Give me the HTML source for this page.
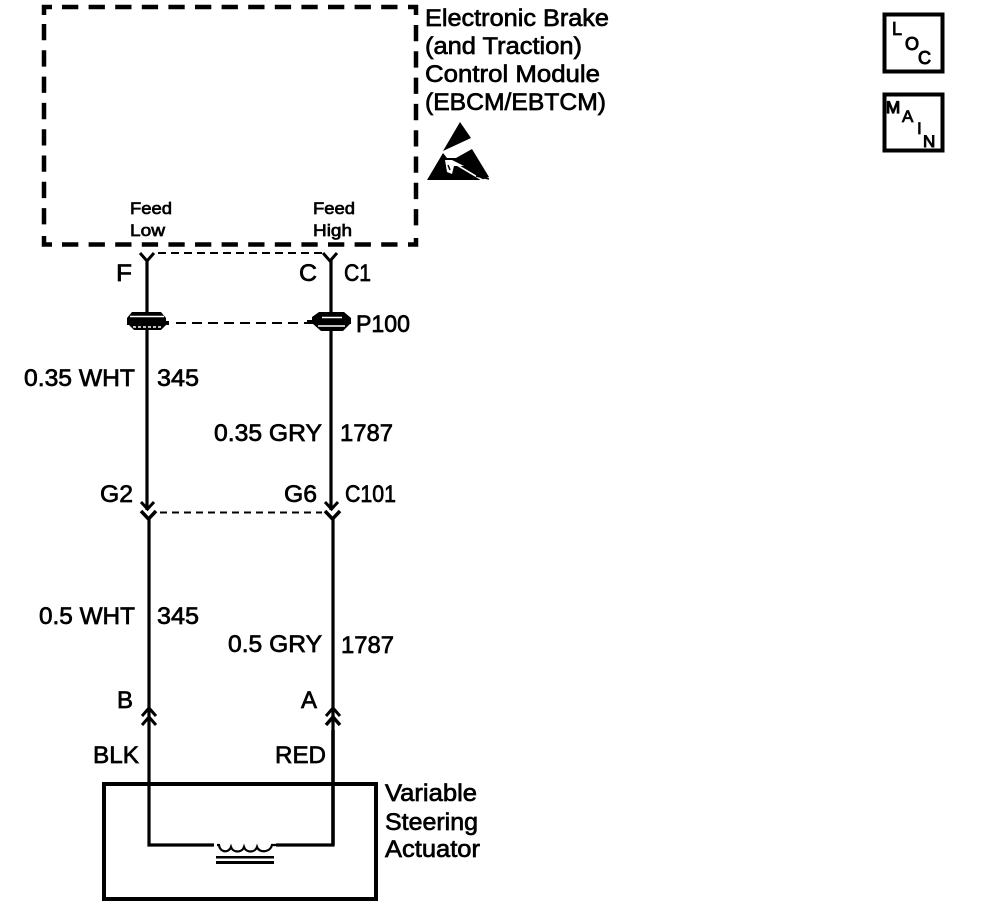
<!DOCTYPE html>
<html>
<head>
<meta charset="utf-8">
<style>
html,body{margin:0;padding:0;background:#fff;width:992px;height:914px;overflow:hidden}
svg{display:block}
text{font-family:"Liberation Sans",sans-serif;fill:#000;stroke:#000;stroke-width:.7px}
</style>
</head>
<body>
<svg width="992" height="914" viewBox="0 0 992 914" xmlns="http://www.w3.org/2000/svg">
<rect width="992" height="914" fill="#fff"/>
<!-- Module dashed box -->
<g fill="none" stroke="#000" stroke-width="4.5">
<path d="M44 15V7H52"/>
<path d="M62 7H400" stroke-dasharray="16.300 10.300"/>
<path d="M408 7H416V15"/>
<path d="M416 25V232" stroke-dasharray="16.300 10"/>
<path d="M44 24V232" stroke-dasharray="16.300 10"/>
<path d="M44 236V244.500H52"/>
<path d="M62 244.500H400" stroke-dasharray="16.300 10.300"/>
<path d="M408 244.500H416V238"/>
</g>
<!-- Thin dashed connector links -->
<g fill="none" stroke="#000" stroke-width="2">
<path d="M158 253H322" stroke-dasharray="8 5"/>
<path d="M176 323H312" stroke-dasharray="10 6"/>
<path d="M160 512.500H322" stroke-dasharray="7 5"/>
</g>
<!-- Wires -->
<g fill="none" stroke="#000" stroke-width="3.200">
<path d="M147 260V510"/>
<path d="M331 260V510"/>
<path d="M149 518V845H333V518"/>
<path d="M140 253L147 261L154 253" stroke-width="3"/>
<path d="M323 253L330 261L337 253" stroke-width="3"/>
<path d="M141 502L147.500 509L154 502" stroke-width="3"/>
<path d="M141 511L148.500 519L156 511" stroke-width="3.500"/>
<path d="M325 502L331.500 509L338 502" stroke-width="3"/>
<path d="M325 511L332.500 519L340 511" stroke-width="3.500"/>
<path d="M142 716L149 708L156 716" stroke-width="3"/>
<path d="M142 725L149 717L156 725" stroke-width="3"/>
<path d="M326 716L333 708L340 716" stroke-width="3"/>
<path d="M326 725L333 717L340 725" stroke-width="3.500"/>
</g>
<!-- P100 splice pads -->
<g fill="#000">
<path d="M127 322V318L132 312H161L166 318V322Z"/>
<path d="M127 321H169V325H127Z"/>
<path d="M129 325H166L161 330H134Z"/>
<path d="M312 322V317L319 312H344L351 318V322Z"/>
<path d="M307 320H351V324H307Z"/>
<path d="M313 324H350L343 331H321Z"/>
</g>
<g stroke="#fff" stroke-width="1.500" fill="none">
<path d="M130 316.500H164"/>
<path d="M133 327H162" stroke-dasharray="3 2"/>
<path d="M322 317.500H342"/>
<path d="M318 326H345"/>
</g>
<!-- Actuator box -->
<rect x="104" y="784" width="272" height="115" fill="none" stroke="#000" stroke-width="4"/>
<path d="M333 730V845" fill="none" stroke="#000" stroke-width="3.500"/>
<!-- Coil -->
<rect x="214" y="842" width="62" height="6" fill="#fff"/>
<path d="M217 845H219C220 853 229 853 231 847C233 853 242 853 244 847C246 853 255 853 257 847C259 853 270 853 272 845H276" fill="none" stroke="#000" stroke-width="2.200"/>
<rect x="216" y="856" width="58" height="2.500" fill="#000"/>
<rect x="216" y="861" width="58" height="3" fill="#000"/>
<!-- ESD symbol -->
<path d="M460 122L471 138L443 151Z" fill="#000"/>
<path d="M427 180L443 153L447 158L456 158L472 149L489 177L481 180Z" fill="#000"/>
<path d="M452 162L484 181" stroke="#fff" stroke-width="1.600" fill="none"/>
<path d="M445 160L447 172L452 174L454 166L464 166L452 160Z" fill="#fff"/>
<path d="M448 165L450 170" stroke="#000" stroke-width="1.500" fill="none"/>
<path d="M476 176L489 179" stroke="#000" stroke-width="1.500" fill="none"/>
<!-- Icon boxes -->
<rect x="884.500" y="14.500" width="58" height="57" fill="none" stroke="#000" stroke-width="4"/>
<rect x="884.500" y="94.500" width="58" height="56" fill="none" stroke="#000" stroke-width="4"/>
<text x="892" y="35" font-size="18" style="stroke-width:.8px">L</text>
<text x="905" y="50" font-size="18" style="stroke-width:1px">O</text>
<text x="918" y="64" font-size="18" style="stroke-width:1px">C</text>
<text x="886" y="113" font-size="17" style="stroke-width:1.200px">M</text>
<text x="902" y="122" font-size="17" style="stroke-width:.8px">A</text>
<text x="917" y="134" font-size="17" style="stroke-width:.8px">I</text>
<text x="923" y="147" font-size="17" style="stroke-width:1px">N</text>
<!-- Module label -->
<g font-size="24.500">
<text x="425" y="26" textLength="184" lengthAdjust="spacingAndGlyphs">Electronic Brake</text>
<text x="425" y="54" textLength="157" lengthAdjust="spacingAndGlyphs">(and Traction)</text>
<text x="425" y="82" textLength="175" lengthAdjust="spacingAndGlyphs">Control Module</text>
<text x="425" y="110" textLength="181" lengthAdjust="spacingAndGlyphs">(EBCM/EBTCM)</text>
</g>
<!-- Pin labels -->
<g font-size="17">
<text x="130" y="214" textLength="42" lengthAdjust="spacingAndGlyphs">Feed</text>
<text x="130" y="236" textLength="35" lengthAdjust="spacingAndGlyphs">Low</text>
<text x="313" y="214" textLength="42" lengthAdjust="spacingAndGlyphs">Feed</text>
<text x="313" y="236" textLength="39" lengthAdjust="spacingAndGlyphs">High</text>
</g>
<g font-size="24">
<text x="116" y="281" textLength="16" lengthAdjust="spacingAndGlyphs">F</text>
<text x="299" y="281" textLength="18" lengthAdjust="spacingAndGlyphs">C</text>
<text x="344" y="281" textLength="27" lengthAdjust="spacingAndGlyphs">C1</text>
<text x="356" y="332" textLength="54" lengthAdjust="spacingAndGlyphs">P100</text>
<text x="24" y="386" textLength="111" lengthAdjust="spacingAndGlyphs">0.35 WHT</text>
<text x="157" y="386" textLength="42" lengthAdjust="spacingAndGlyphs">345</text>
<text x="214" y="441" textLength="108" lengthAdjust="spacingAndGlyphs">0.35 GRY</text>
<text x="340" y="441" textLength="53" lengthAdjust="spacingAndGlyphs">1787</text>
<text x="100" y="502" textLength="33" lengthAdjust="spacingAndGlyphs">G2</text>
<text x="284" y="502" textLength="33" lengthAdjust="spacingAndGlyphs">G6</text>
<text x="345" y="502" textLength="51" lengthAdjust="spacingAndGlyphs">C101</text>
<text x="39" y="624" textLength="96" lengthAdjust="spacingAndGlyphs">0.5 WHT</text>
<text x="157" y="624" textLength="42" lengthAdjust="spacingAndGlyphs">345</text>
<text x="228" y="652" textLength="94" lengthAdjust="spacingAndGlyphs">0.5 GRY</text>
<text x="341" y="653" textLength="53" lengthAdjust="spacingAndGlyphs">1787</text>
<text x="117" y="708" textLength="16" lengthAdjust="spacingAndGlyphs">B</text>
<text x="301" y="708" textLength="16" lengthAdjust="spacingAndGlyphs">A</text>
<text x="93" y="763" textLength="46" lengthAdjust="spacingAndGlyphs">BLK</text>
<text x="275" y="763" textLength="51" lengthAdjust="spacingAndGlyphs">RED</text>
<text x="385" y="801" textLength="92" lengthAdjust="spacingAndGlyphs">Variable</text>
<text x="385" y="830" textLength="93" lengthAdjust="spacingAndGlyphs">Steering</text>
<text x="385" y="857" textLength="95" lengthAdjust="spacingAndGlyphs">Actuator</text>
</g>
</svg>
</body>
</html>
